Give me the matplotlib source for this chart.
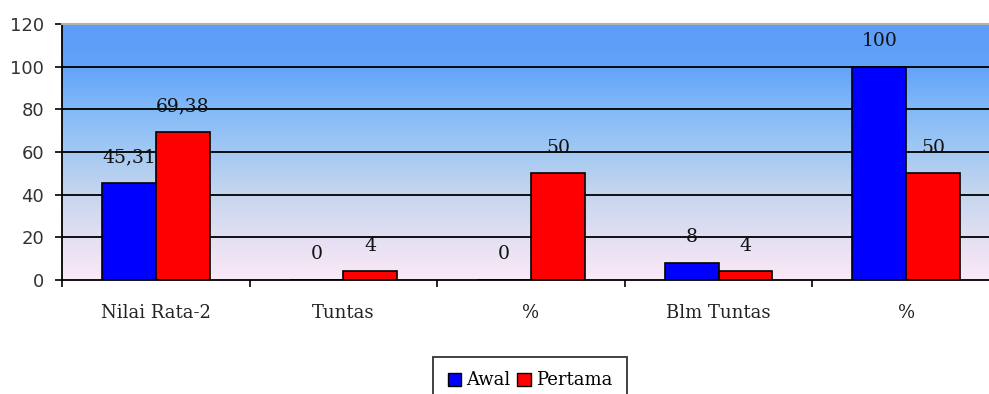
import numpy as np
import matplotlib
matplotlib.use("Agg")
import matplotlib.pyplot as plt
from matplotlib.colors import LinearSegmentedColormap
from matplotlib.patches import Patch

categories = ["Nilai Rata-2", "Tuntas", "%", "Blm Tuntas", "%"]
awal = [45.31, 0, 0, 8, 100]
pertama = [69.38, 4, 50, 4, 50]
awal_labels = ["45,31", "0", "0", "8", "100"]
pertama_labels = ["69,38", "4", "50", "4", "50"]
yticks = [0, 20, 40, 60, 80, 100, 120]

plt.rcParams["font.family"] = ["DejaVu Serif"]

fig = plt.figure(figsize=(9.89, 3.94), dpi=100)
W, H = 989, 394
left, right, top, bottom = 62, 1000, 24, 280
ax = fig.add_axes([left / W, 1 - bottom / H, (right - left) / W, (bottom - top) / H])

n = len(categories)
ax.set_xlim(0, n)
ax.set_ylim(0, 120)

# vertical gradient background: blue at top fading to pale pink at bottom
grad = LinearSegmentedColormap.from_list(
    "bg",
    [(0.0, "#fbe9f7"), (0.17, "#e2dff2"), (0.35, "#c3d5ee"),
     (0.52, "#9fc7f3"), (0.68, "#7fb8f8"), (0.84, "#62a2f9"), (1.0, "#5d9cf8")])
ax.imshow(np.linspace(0, 1, 256).reshape(-1, 1), aspect="auto", cmap=grad,
          extent=[0, n, 0, 120], origin="lower", zorder=0)

for y in yticks[1:-1]:
    ax.axhline(y, color="black", lw=1.3, zorder=1)

x = np.arange(n) + 0.5
bw = 0.287
ax.bar(x - bw / 2, awal, bw, color="#0000ff", edgecolor="black", lw=1.2, zorder=2)
ax.bar(x + bw / 2, pertama, bw, color="#ff0000", edgecolor="black", lw=1.2, zorder=2)

for xi, v, s in zip(x - bw / 2, awal, awal_labels):
    ax.annotate(s, (xi, v), xytext=(0, 18.5), textcoords="offset points",
                ha="center", va="center", fontsize=13.5, color="#111111", zorder=3)
for xi, v, s in zip(x + bw / 2, pertama, pertama_labels):
    ax.annotate(s, (xi, v), xytext=(0, 18.5), textcoords="offset points",
                ha="center", va="center", fontsize=13.5, color="#111111", zorder=3)

ax.set_yticks(yticks)
ax.set_yticklabels([str(t) for t in yticks], fontsize=13, family="DejaVu Sans",
                   color="#333333")
ax.set_xticks(np.arange(n + 1))
ax.set_xticklabels([])
ax.set_xticks(x, minor=True)
ax.set_xticklabels(categories, minor=True, fontsize=13, color="#222222")
ax.tick_params(axis="x", which="minor", length=0, pad=17)
ax.tick_params(axis="x", which="major", length=5, width=1.2, direction="out")
ax.tick_params(axis="y", length=5, width=1.2, direction="out", pad=8)

for side in ["left", "bottom"]:
    ax.spines[side].set_color("black")
    ax.spines[side].set_linewidth(1.3)
ax.spines["top"].set_color("#b0b0b0")
ax.spines["top"].set_linewidth(1.5)
ax.spines["right"].set_visible(False)

handles = [Patch(facecolor="#0000ff", edgecolor="black", label="Awal"),
           Patch(facecolor="#ff0000", edgecolor="black", label="Pertama")]
leg = fig.legend(handles=handles, loc="upper center", bbox_to_anchor=(530 / W, 1 - 357 / H),
                 ncol=2, frameon=True, fancybox=False, fontsize=13,
                 handlelength=0.75, handleheight=0.75, handletextpad=0.3,
                 columnspacing=0.35, borderpad=0.8, borderaxespad=0,
                 edgecolor="black")
leg.get_frame().set_linewidth(1.3)

fig.savefig("out.png", dpi=100, facecolor="white")
